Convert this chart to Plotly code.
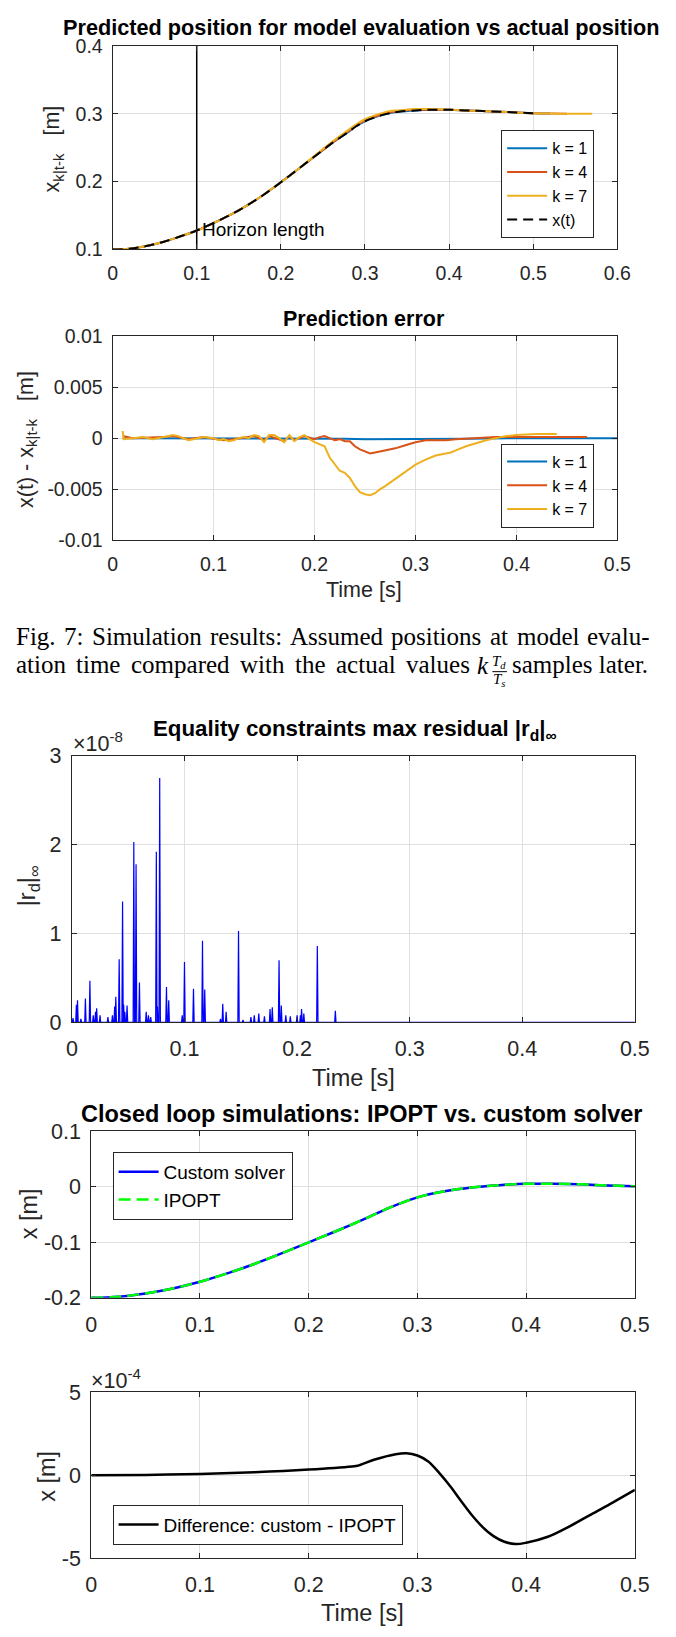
import plotly.graph_objects as go

W, H = 676, 1637

# ---------------- data ----------------
# Plot 1: predicted vs actual position
t_pos = [0.00, 0.02, 0.04, 0.06, 0.08, 0.10, 0.12, 0.14, 0.16, 0.18, 0.20, 0.22, 0.24, 0.26,
         0.28, 0.29, 0.30, 0.31, 0.32, 0.33, 0.34, 0.36, 0.38, 0.40, 0.42, 0.44, 0.46, 0.48, 0.50,
         0.52, 0.54, 0.56, 0.57]
x_actual = [0.100, 0.101, 0.105, 0.111, 0.119, 0.128, 0.139, 0.151, 0.165, 0.181, 0.199, 0.218, 0.237, 0.256,
            0.273, 0.282, 0.289, 0.294, 0.298, 0.301, 0.303, 0.305, 0.306, 0.306, 0.305, 0.304, 0.303, 0.302,
            0.301]
x_k1 = [0.100, 0.101, 0.105, 0.111, 0.119, 0.128, 0.139, 0.151, 0.165, 0.181, 0.199, 0.218, 0.237, 0.256,
        0.273, 0.282, 0.289, 0.294, 0.298, 0.301, 0.303, 0.305, 0.306, 0.306, 0.305, 0.304, 0.303, 0.302,
        0.301, 0.3005]
x_k4 = [0.100, 0.101, 0.105, 0.111, 0.119, 0.128, 0.139, 0.151, 0.165, 0.181, 0.199, 0.218, 0.237, 0.256,
        0.274, 0.283, 0.290, 0.295, 0.299, 0.302, 0.304, 0.306, 0.306, 0.306, 0.305, 0.304, 0.303, 0.302,
        0.301, 0.3005, 0.300]
x_k7 = [0.100, 0.101, 0.105, 0.111, 0.119, 0.128, 0.139, 0.151, 0.165, 0.181, 0.199, 0.218, 0.238, 0.258,
        0.276, 0.285, 0.292, 0.297, 0.301, 0.304, 0.305, 0.307, 0.307, 0.306, 0.305, 0.304, 0.303, 0.302,
        0.301, 0.3005, 0.300, 0.300, 0.300]
horizon_t = 0.1

# Plot 2: prediction error
t_err_k1 = [0.01, 0.10, 0.20, 0.23, 0.25, 0.30, 0.35, 0.40, 0.50]
err_k1 = [0.0, 0.0, 0.0, -0.00005, -0.0001, -0.0001, -0.00005, 0.0, 0.0]
t_err_k4 = [0.010, 0.02, 0.05, 0.06, 0.075, 0.09, 0.11, 0.12, 0.14, 0.15, 0.155, 0.17, 0.175, 0.18, 0.19,
            0.20, 0.205, 0.21, 0.215, 0.22, 0.225, 0.23, 0.235, 0.24, 0.245, 0.25, 0.255, 0.26, 0.27, 0.28,
            0.29, 0.30, 0.31, 0.32, 0.33, 0.34, 0.36, 0.38, 0.40, 0.43, 0.47]
err_k4 = [0.0002, 0.0, 0.0001, 0.0002, -0.0001, 0.0001, -0.0002, -0.0001, 0.0002, -0.0002, 0.0002, -0.0003,
          0.0002, -0.0002, 0.0002, -0.0001, 0.0001, 0.0002, 0.0, -0.0002, -0.0001, -0.0003, -0.0003, -0.0008,
          -0.0011, -0.0013, -0.0015, -0.0014, -0.0012, -0.0010, -0.0007, -0.0004, -0.0002, -0.0002, -0.0002,
          -0.0001, 0.0, 0.0001, 0.0001, 0.0001, 0.0001]
t_err_k7 = [0.010, 0.011, 0.02, 0.03, 0.04, 0.05, 0.055, 0.06, 0.065, 0.07, 0.075, 0.08, 0.09, 0.10, 0.105,
            0.11, 0.115, 0.12, 0.125, 0.13, 0.135, 0.14, 0.145, 0.15, 0.155, 0.16, 0.165, 0.17, 0.175, 0.18,
            0.185, 0.19, 0.195, 0.20, 0.205, 0.21, 0.215, 0.22, 0.225, 0.23, 0.235, 0.24, 0.245, 0.25, 0.255,
            0.26, 0.265, 0.27, 0.28, 0.29, 0.30, 0.31, 0.32, 0.33, 0.335, 0.34, 0.35, 0.36, 0.37, 0.38, 0.39,
            0.40, 0.42, 0.44]
err_k7 = [0.0007, -0.0001, 0.0, 0.0001, -0.0001, 0.0001, 0.0002, 0.0003, 0.0002, 0.0, -0.0002, -0.0001,
          0.0001, 0.0, -0.0002, -0.0001, -0.0003, -0.0002, 0.0, 0.0001, 0.0, 0.0003, 0.0002, -0.0004, 0.0003,
          0.0003, 0.0, -0.0004, 0.0003, -0.0003, 0.0001, 0.0003, -0.0001, -0.0004, -0.0006, -0.0008, -0.0019,
          -0.0026, -0.0032, -0.0034, -0.0039, -0.0047, -0.0053, -0.0055, -0.0056, -0.0054, -0.0050, -0.0047,
          -0.0040, -0.0033, -0.0026, -0.0021, -0.0017, -0.0015, -0.0014, -0.0012, -0.0008, -0.0005, -0.0002,
          0.0, 0.0002, 0.0003, 0.0004, 0.0004]

# Plot 3: residual spikes
spike_t = [0.001, 0.004, 0.005, 0.008, 0.012, 0.016, 0.019, 0.021, 0.022, 0.025, 0.032, 0.036, 0.038,
           0.039, 0.042, 0.045, 0.046, 0.047, 0.049, 0.055, 0.057, 0.060, 0.066, 0.068, 0.070, 0.075,
           0.076, 0.078, 0.084, 0.086, 0.098, 0.100, 0.108, 0.116, 0.118, 0.132, 0.134, 0.137, 0.148,
           0.152, 0.159, 0.162, 0.166, 0.171, 0.176, 0.178, 0.184, 0.186, 0.190, 0.194, 0.200, 0.203,
           0.204, 0.206, 0.218, 0.234]
spike_h = [0.05e-8, 0.20e-8, 0.25e-8, 0.04e-8, 0.27e-8, 0.47e-8, 0.08e-8, 0.12e-8, 0.16e-8, 0.08e-8,
           0.06e-8, 0.08e-8, 0.18e-8, 0.29e-8, 0.71e-8, 1.36e-8, 0.20e-8, 0.12e-8, 0.19e-8, 2.03e-8,
           1.78e-8, 0.45e-8, 0.12e-8, 0.08e-8, 0.06e-8, 1.92e-8, 0.18e-8, 2.75e-8, 0.40e-8, 0.25e-8,
           0.08e-8, 0.68e-8, 0.38e-8, 0.92e-8, 0.37e-8, 0.04e-8, 0.21e-8, 0.12e-8, 1.03e-8, 0.03e-8,
           0.06e-8, 0.08e-8, 0.10e-8, 0.07e-8, 0.15e-8, 0.17e-8, 0.70e-8, 0.19e-8, 0.08e-8, 0.07e-8,
           0.08e-8, 0.08e-8, 0.15e-8, 0.10e-8, 0.86e-8, 0.13e-8]

# Plot 4: closed loop
t_cl = [0.0, 0.025, 0.05, 0.075, 0.1, 0.125, 0.15, 0.175, 0.2, 0.225, 0.25, 0.275, 0.3, 0.325, 0.35,
        0.375, 0.4, 0.425, 0.45, 0.475, 0.5]
x_custom = [-0.200, -0.198, -0.192, -0.183, -0.171, -0.156, -0.139, -0.120, -0.100, -0.080, -0.059,
            -0.037, -0.019, -0.008, -0.001, 0.003, 0.0055, 0.0055, 0.0045, 0.0025, 0.001]
x_ipopt = [-0.200, -0.198, -0.192, -0.183, -0.171, -0.156, -0.139, -0.120, -0.100, -0.080, -0.059,
           -0.037, -0.019, -0.008, -0.001, 0.003, 0.0055, 0.0055, 0.0045, 0.0025, 0.001]

# Plot 5: difference
t_diff = [0.0, 0.05, 0.1, 0.15, 0.2, 0.24, 0.245, 0.26, 0.28, 0.29, 0.30, 0.31, 0.32, 0.33, 0.34, 0.35,
          0.36, 0.37, 0.38, 0.39, 0.40, 0.42, 0.44, 0.46, 0.48, 0.50]
x_diff = [0.0, 0.02e-4, 0.08e-4, 0.18e-4, 0.34e-4, 0.53e-4, 0.57e-4, 0.93e-4, 1.27e-4, 1.33e-4, 1.19e-4,
          0.83e-4, 0.14e-4, -0.65e-4, -1.54e-4, -2.40e-4, -3.13e-4, -3.68e-4, -4.02e-4, -4.16e-4,
          -4.08e-4, -3.72e-4, -3.09e-4, -2.36e-4, -1.64e-4, -0.89e-4]

# caption words
cap_line1 = ["Fig.", "7:", "Simulation", "results:", "Assumed", "positions", "at", "model", "evalu-"]
cap_line2 = ["ation", "time", "compared", "with", "the", "actual", "values"]

# ---------------- styling ----------------
FONT = "Liberation Sans"
AX = "#262626"
GRID = "#DFDFDF"
C1, C4, C7 = "#0072BD", "#D95319", "#EDB120"


def px(x):
    return x / W


def py(y):
    return 1 - y / H


def axis(dom, anchor, rng, vals, texts, fs, standoff):
    return dict(domain=dom, anchor=anchor, range=rng, tickvals=vals, ticktext=texts,
                showline=True, mirror="ticks", linecolor=AX, linewidth=1, ticks="inside", ticklen=5,
                tickcolor=AX, showgrid=True, gridcolor=GRID, gridwidth=1, zeroline=False,
                tickfont=dict(family=FONT, size=fs, color=AX), ticklabelstandoff=standoff)


def xax(l, r, *a):
    return axis([px(l), px(r)], *a)


def yax(t, b, *a):
    return axis([py(b), py(t)], *a)


fig = go.Figure()

# Plot 1
fig.add_trace(go.Scatter(x=[horizon_t, horizon_t], y=[0.1, 0.4], mode="lines", line=dict(color="black", width=1.5),
                         showlegend=False, xaxis="x", yaxis="y"))
fig.add_trace(go.Scatter(x=t_pos[:len(x_k1)], y=x_k1, mode="lines", name="k = 1",
                         line=dict(color=C1, width=2, shape="spline"), xaxis="x", yaxis="y", legend="legend"))
fig.add_trace(go.Scatter(x=t_pos[:len(x_k4)], y=x_k4, mode="lines", name="k = 4",
                         line=dict(color=C4, width=2, shape="spline"), xaxis="x", yaxis="y", legend="legend"))
fig.add_trace(go.Scatter(x=t_pos[:len(x_k7)], y=x_k7, mode="lines", name="k = 7",
                         line=dict(color=C7, width=2, shape="spline"), xaxis="x", yaxis="y", legend="legend"))
fig.add_trace(go.Scatter(x=t_pos[:len(x_actual)], y=x_actual, mode="lines", name="x(t)",
                         line=dict(color="black", width=2, dash="10px,6px", shape="spline"),
                         xaxis="x", yaxis="y", legend="legend"))

# Plot 2
fig.add_trace(go.Scatter(x=t_err_k1, y=err_k1, mode="lines", name="k = 1", line=dict(color=C1, width=2),
                         xaxis="x2", yaxis="y2", legend="legend2"))
fig.add_trace(go.Scatter(x=t_err_k4, y=err_k4, mode="lines", name="k = 4", line=dict(color=C4, width=2),
                         xaxis="x2", yaxis="y2", legend="legend2"))
fig.add_trace(go.Scatter(x=t_err_k7, y=err_k7, mode="lines", name="k = 7", line=dict(color=C7, width=2),
                         xaxis="x2", yaxis="y2", legend="legend2"))

# Plot 3: spikes built from the spike list
dt = 0.0006
sx, sy = [0.0], [0.0]
for t, h in zip(spike_t, spike_h):
    sx += [t - dt, t, t + dt]
    sy += [0.0, h, 0.0]
sx.append(0.5)
sy.append(0.0)
fig.add_trace(go.Scatter(x=sx, y=sy, mode="lines", line=dict(color="#0000FF", width=1.2), showlegend=False,
                         xaxis="x3", yaxis="y3"))

# Plot 4
fig.add_trace(go.Scatter(x=t_cl, y=x_custom, mode="lines", name="Custom solver",
                         line=dict(color="#0000FF", width=2.5, shape="spline"), xaxis="x4", yaxis="y4",
                         legend="legend3"))
fig.add_trace(go.Scatter(x=t_cl, y=x_ipopt, mode="lines", name="IPOPT",
                         line=dict(color="#00FF00", width=2.5, dash="12px,6px", shape="spline"), xaxis="x4",
                         yaxis="y4", legend="legend3"))

# Plot 5
fig.add_trace(go.Scatter(x=t_diff, y=x_diff, mode="lines", name="Difference: custom - IPOPT",
                         line=dict(color="black", width=2.5, shape="spline"), xaxis="x5", yaxis="y5",
                         legend="legend4"))

TOPF, BOTF = 19.5, 21.5
T01 = ["0", "0.1", "0.2", "0.3", "0.4", "0.5"]

layout = dict(
    width=W, height=H, margin=dict(l=0, r=0, t=0, b=0), paper_bgcolor="white", plot_bgcolor="white",
    xaxis=xax(110, 631, "y", [0, 0.6], [0, 0.1, 0.2, 0.3, 0.4, 0.5, 0.6], T01 + ["0.6"], TOPF, 6),
    yaxis=yax(35.5, 242, "x", [0.1, 0.4], [0.1, 0.2, 0.3, 0.4], ["0.1", "0.2", "0.3", "0.4"], TOPF, 5),
    xaxis2=xax(110, 631, "y2", [0, 0.5], [0, 0.1, 0.2, 0.3, 0.4, 0.5], T01, TOPF, 6),
    yaxis2=yax(330, 537, "x2", [-0.01, 0.01], [-0.01, -0.005, 0, 0.005, 0.01],
               ["-0.01", "-0.005", "0", "0.005", "0.01"], TOPF, 5),
    xaxis3=xax(68, 649, "y3", [0, 0.5], [0, 0.1, 0.2, 0.3, 0.4, 0.5], T01, BOTF, 7),
    yaxis3=yax(756, 1026.5, "x3", [0, 3e-8], [0, 1e-8, 2e-8, 3e-8], ["0", "1", "2", "3"], BOTF, 5),
    xaxis4=xax(88, 649, "y4", [0, 0.5], [0, 0.1, 0.2, 0.3, 0.4, 0.5], T01, BOTF, 7),
    yaxis4=yax(1137, 1306, "x4", [-0.2, 0.1], [-0.2, -0.1, 0, 0.1], ["-0.2", "-0.1", "0", "0.1"], BOTF, 5),
    xaxis5=xax(88, 649, "y5", [0, 0.5], [0, 0.1, 0.2, 0.3, 0.4, 0.5], T01, BOTF, 7),
    yaxis5=yax(1402, 1570, "x5", [-5e-4, 5e-4], [-5e-4, 0, 5e-4], ["-5", "0", "5"], BOTF, 5),
)

legstyle = dict(bgcolor="white", bordercolor=AX, borderwidth=1, xanchor="left", yanchor="top",
                tracegroupgap=0, itemwidth=40)
layout["legend"] = dict(x=px(511), y=py(121), font=dict(family=FONT, size=16, color="black"), **legstyle)
layout["legend2"] = dict(x=px(511), y=py(439), font=dict(family=FONT, size=16, color="black"), **legstyle)
layout["legend3"] = dict(x=px(110), y=py(1158), font=dict(family=FONT, size=19, color="black"), **legstyle)
layout["legend4"] = dict(x=px(110), y=py(1516), font=dict(family=FONT, size=19, color="black"), **legstyle)

fig.update_layout(**layout)

ann = []


def text(x, y, s, size, xanchor="center", angle=0, family=FONT, color="black"):
    ann.append(dict(x=px(x), y=py(y), xref="paper", yref="paper", text=s, showarrow=False, xanchor=xanchor,
                    yanchor="middle", textangle=angle, font=dict(family=family, size=size, color=color)))


# titles
text(367, 17, "<b>Predicted position for model evaluation vs actual position</b>", 21.7)
text(369, 313, "<b>Prediction error</b>", 21.5)
text(360, 730, "<b>Equality constraints max residual |r<sub>d</sub>|<sub>∞</sub></b>", 22.3)
text(367, 1119, "<b>Closed loop simulations: IPOPT vs. custom solver</b>", 23.5)

# axis labels
text(50, 140, "x<sub>k|t-k</sub>&nbsp;&nbsp;&nbsp;[m]", 21.5, angle=-90, color=AX)
text(22, 435, "x(t) - x<sub>k|t-k</sub>&nbsp;&nbsp;&nbsp;[m]", 21.5, angle=-90, color=AX)
text(369, 588, "Time [s]", 21.5, color=AX)
text(24, 888, "|r<sub>d</sub>|<sub>∞</sub>", 23.5, angle=-90, color=AX)
text(359, 1083, "Time [s]", 23.5, color=AX)
text(24, 1221, "x [m]", 23.5, angle=-90, color=AX)
text(43, 1487, "x [m]", 23.5, angle=-90, color=AX)
text(368, 1626, "Time [s]", 23.5, color=AX)

# exponent labels
text(67, 742, "×10<sup>-8</sup>", 21.5, xanchor="left", color=AX)
text(86, 1388, "×10<sup>-4</sup>", 21.5, xanchor="left", color=AX)

# horizon length annotation (data coords)
ann.append(dict(x=horizon_t, y=0.13, xref="x", yref="y", text="Horizon length", showarrow=False, xanchor="left",
                yanchor="middle", xshift=3, font=dict(family=FONT, size=19, color="black")))

# caption: justified by placing words individually
SERIF = "Liberation Serif"
CF = 25
TIMES_W = {" ": 250, "F": 556, "i": 278, "g": 500, ".": 250, "7": 500, ":": 278, "S": 556, "m": 778,
           "u": 500, "l": 278, "a": 444, "t": 278, "o": 500, "n": 500, "r": 333, "e": 444, "s": 389,
           "A": 722, "d": 500, "p": 500, "v": 500, "-": 333, "c": 444, "h": 500, "w": 722}


def word_w(wd, size):
    return sum(TIMES_W.get(ch, 500) for ch in wd) / 1000 * size * 1.025


def cap(x, y, s, size=CF, xanchor="left"):
    ann.append(dict(x=px(x), y=py(y), xref="paper", yref="paper", text=s, showarrow=False, xanchor=xanchor,
                    yanchor="middle", font=dict(family=SERIF, size=size, color="black")))


def justify(words, x0, x1, y, size=CF):
    ws = [word_w(wd, size) for wd in words]
    gap = (x1 - x0 - sum(ws)) / (len(words) - 1)
    x = x0
    for wd, w in zip(words, ws):
        cap(x, y, wd, size)
        x += w + gap


justify(cap_line1, 8, 662, 635)
justify(cap_line2, 8, 476, 663)
cap(492, 664, "<i>k</i>", xanchor="center")
cap(509, 661, "<i>T<sub>d</sub></i>", size=15, xanchor="center")
cap(509, 679, "<i>T<sub>s</sub></i>", size=15, xanchor="center")
cap(665, 663, "samples later.", xanchor="right")

fig.update_layout(annotations=ann)
fig.add_shape(type="line", xref="paper", yref="paper", x0=px(502), x1=px(517), y0=py(670.5), y1=py(670.5),
              line=dict(color="black", width=1))

fig.write_html("out.html", config={"displayModeBar": False},
               post_script="document.body.style.margin='0px';document.documentElement.style.overflow='hidden';")
